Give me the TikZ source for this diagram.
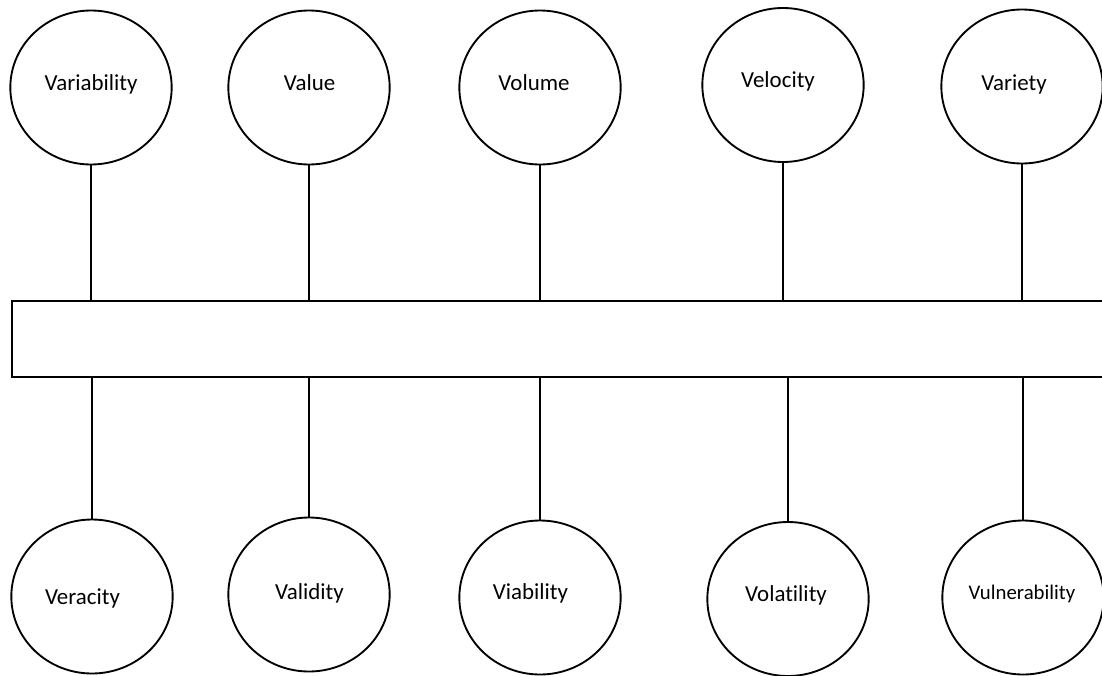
\documentclass[tikz,border=0pt]{standalone}
\usepackage{fontspec}
\setmainfont[Ligatures=NoCommon]{Carlito}
\usetikzlibrary{shapes.geometric}
\begin{document}
\begin{tikzpicture}[x=0.75pt,y=-0.75pt,
  ring/.style={draw,ellipse,line width=1.4pt,inner sep=0pt,minimum width=121pt,minimum height=115.5pt},
  lbl/.style={anchor=base,inner sep=0pt,font=\fontsize{17.2}{20}\selectfont},
  conn/.style={line width=1.4pt},
  bar/.style={draw,line width=1.4pt,inner sep=0pt,minimum width=822pt,minimum height=57pt,anchor=north west}]
\clip (0,0) rectangle (1102,675);
\fill[white] (0,0) rectangle (1102,675);
% bar
\node[bar] (bar) at (11,300) {};
% top circles
\node[ring] (a1) at (91,87.5) {};
\node[ring] (a2) at (309,87.5) {};
\node[ring] (a3) at (540,87.5) {};
\node[ring] (a4) at (783,85) {};
\node[ring] (a5) at (1022,86.5) {};
\node[lbl] (ta1) at (91,90.7) {Variability};
\node[lbl] (ta2) at (309.5,90.7) {Value};
\node[lbl] (ta3) at (534,90.7) {Volume};
\node[lbl] (ta4) at (778,87) {Velocity};
\node[lbl] (ta5) at (1014,90.7) {Variety};
% bottom circles
\node[ring] (b1) at (92,596.5) {};
\node[ring] (b2) at (309,594.5) {};
\node[ring] (b3) at (540,597.5) {};
\node[ring] (b4) at (788,599) {};
\node[ring] (b5) at (1023,597.5) {};
\node[lbl] (tb1) at (82.5,604) {Veracity};
\node[lbl] (tb2) at (309.5,599) {Validity};
\node[lbl] (tb3) at (530.5,599) {Viability};
\node[lbl] (tb4) at (786,601) {Volatility};
\node[lbl,font=\fontsize{15.6}{18}\selectfont] (tb5) at (1022,599) {Vulnerability};
% connectors
\foreach \n in {a1,a2,a3,a4,a5}{
  \draw[conn] (\n.south) -- (\n.south |- bar.north);
}
\foreach \n in {b1,b2,b3,b4,b5}{
  \draw[conn] (\n.north |- bar.south) -- (\n.north);
}
\end{tikzpicture}
\end{document}
